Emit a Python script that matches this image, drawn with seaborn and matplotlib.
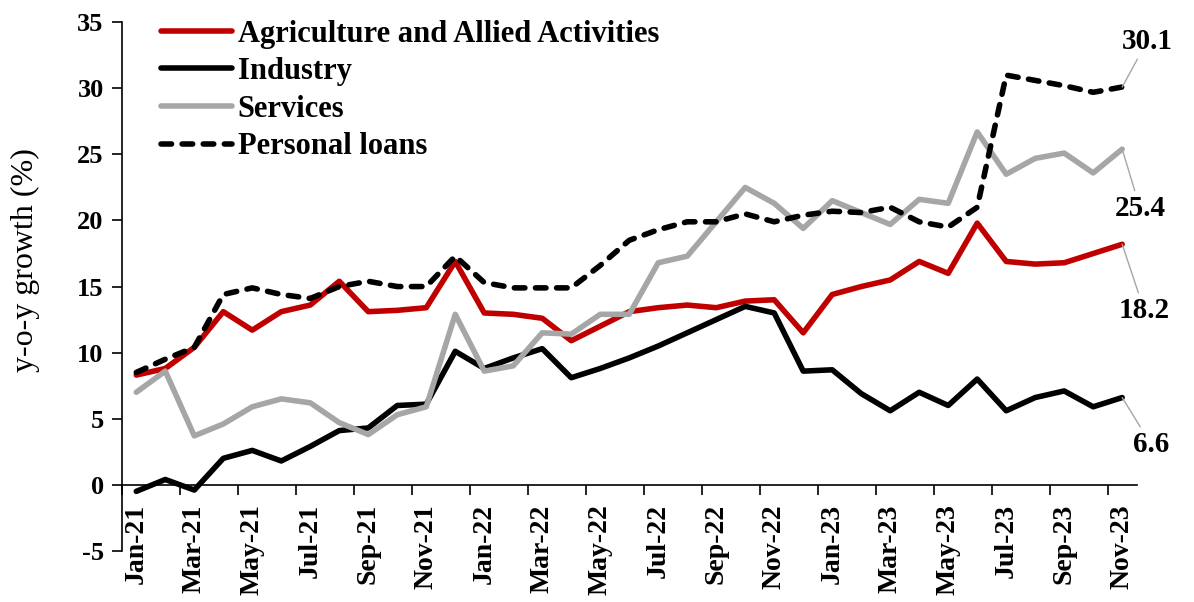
import numpy as np
import pandas as pd
import matplotlib
matplotlib.use("Agg")
import matplotlib.pyplot as plt
import seaborn as sns

# Monthly categories, Jan-21 .. Nov-23
months = pd.date_range("2021-01-01", "2023-11-01", freq="MS").strftime("%b-%y").tolist()

agriculture = [8.3, 8.8, 10.4, 13.1, 11.7, 13.1, 13.6, 15.4, 13.1, 13.2, 13.4, 16.9,
               13.0, 12.9, 12.6, 10.9, 12.0, 13.1, 13.4, 13.6, 13.4, 13.9, 14.0, 11.5,
               14.4, 15.0, 15.5, 16.9, 16.0, 19.8, 16.9, 16.7, 16.8, 17.5, 18.2]
industry = [-0.5, 0.4, -0.4, 2.0, 2.6, 1.8, 2.9, 4.1, 4.3, 6.0, 6.1, 10.1,
            8.8, 9.6, 10.3, 8.1, 8.8, 9.6, 10.5, 11.5, 12.5, 13.5, 13.0, 8.6,
            8.7, 6.9, 5.6, 7.0, 6.0, 8.0, 5.6, 6.6, 7.1, 5.9, 6.6]
services = [7.0, 8.6, 3.7, 4.6, 5.9, 6.5, 6.2, 4.7, 3.8, 5.3, 5.9, 12.9,
            8.6, 9.0, 11.5, 11.4, 12.9, 12.9, 16.8, 17.3, 19.9, 22.5, 21.3, 19.4,
            21.5, 20.6, 19.7, 21.6, 21.3, 26.7, 23.5, 24.7, 25.1, 23.6, 25.4]
personal_loans = [8.5, 9.5, 10.4, 14.4, 14.9, 14.4, 14.1, 15.0, 15.4, 15.0, 15.0, 17.3,
                  15.3, 14.9, 14.9, 14.9, 16.6, 18.5, 19.3, 19.9, 19.9, 20.5, 19.9, 20.4,
                  20.7, 20.6, 21.0, 19.9, 19.5, 21.0, 31.0, 30.6, 30.2, 29.7, 30.1]

series_names = ["Agriculture and Allied Activities", "Industry", "Services", "Personal loans"]
series_values = [agriculture, industry, services, personal_loans]
series_colors = ["#C00000", "#000000", "#A6A6A6", "#000000"]

y_min, y_max = -5, 35
x = np.arange(len(months))

sns.set_theme(style="white")
plt.rcParams["font.family"] = ["Liberation Serif", "DejaVu Serif"]
plt.rcParams["text.color"] = "black"
plt.rcParams["axes.labelcolor"] = "black"
plt.rcParams["axes.unicode_minus"] = False

fig = plt.figure(figsize=(11.94, 6.02), dpi=100)
ax = fig.add_axes([0.102, 0.085, 0.85, 0.878])

lw = 4.0
for name, vals, col in zip(series_names, series_values, series_colors):
    df = pd.DataFrame({"x": x, "y": vals})
    sns.lineplot(data=df, x="x", y="y", ax=ax, color=col, linewidth=lw,
                 label=name, legend=False)
    ln = ax.get_lines()[-1]
    ln.set_solid_capstyle("round")
    if name == "Personal loans":
        ln.set_linestyle((0, (1.9, 1.9)))
        ln.set_dash_capstyle("round")

ax.set_xlim(-0.5, len(months) - 0.5)
ax.set_ylim(y_min, y_max)
ax.set_yticks(np.arange(y_min, y_max + 1, 5))
ax.set_xlabel("")
ax.set_ylabel("y-o-y growth (%)", fontsize=23)
ax.yaxis.set_label_coords(-0.081, 0.55)

for s in ["top", "right"]:
    ax.spines[s].set_visible(False)
for s in ["left", "bottom"]:
    ax.spines[s].set_color("black")
    ax.spines[s].set_linewidth(1.2)
# Category axis crosses the value axis at zero
ax.spines["bottom"].set_position(("data", 0))

ax.tick_params(axis="y", which="major", direction="out", length=7, width=1.2,
               colors="black", labelsize=19, pad=6, left=True)
for t in ax.get_yticklabels():
    t.set_fontweight("bold")

# Tick marks between category pairs, month labels on every other category
ax.set_xticks(np.arange(-0.5, len(months), 2))
ax.set_xticklabels([])
ax.tick_params(axis="x", which="major", direction="out", length=7, width=1.2,
               colors="black", bottom=True)
ax.set_xticks(x[::2], minor=True)
ax.set_xticklabels(months[::2], minor=True, rotation=90, fontsize=20,
                   fontweight="bold")
ax.tick_params(axis="x", which="minor", length=0, pad=14, colors="black", bottom=True)

# End-of-series value labels with leader lines
offsets = {"Personal loans": (18, 33), "Services": (13, -43),
           "Agriculture and Allied Activities": (16, -48), "Industry": (21, -34)}
for name, vals in zip(series_names, series_values):
    dx, dy = offsets[name]
    ax.annotate(f"{vals[-1]:.1f}", xy=(x[-1], vals[-1]), xytext=(dx, dy),
                textcoords="offset points", ha="center", va="center",
                fontsize=21, fontweight="bold", color="black",
                arrowprops=dict(arrowstyle="-", color="#A6A6A6", lw=1.0,
                                shrinkA=1, shrinkB=0))

leg = ax.legend(loc="upper left", bbox_to_anchor=(0.039, 1.005), frameon=False,
                fontsize=22, handlelength=2.3, handletextpad=0.2,
                labelspacing=0.28, borderpad=0, borderaxespad=0)
for t in leg.get_texts():
    t.set_fontweight("bold")

fig.savefig("out.png", dpi=100, facecolor="white")
